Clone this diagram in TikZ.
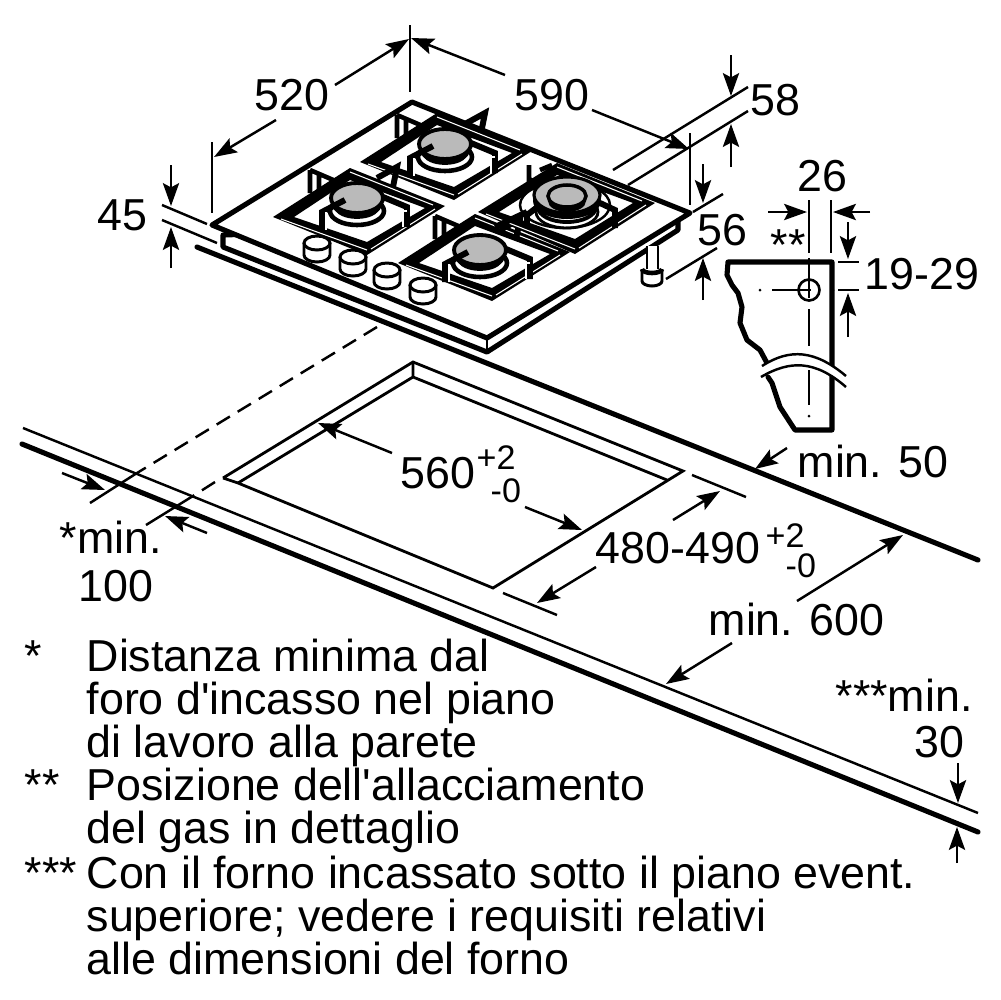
\documentclass[tikz,border=0pt]{standalone}
\usepackage{fontspec}
\newfontfamily\hobfont{Liberation Sans}
\usetikzlibrary{arrows.meta}
\tikzset{
  thin line/.style={line width=0.7pt},
  heavy line/.style={line width=1.45pt,line join=round,line cap=round},
  dim/.style={line width=0.7pt,-{Stealth[length=6.5pt,width=4.6pt,inset=1.2pt]}},
  label/.style={anchor=base west,inner sep=0pt,font=\hobfont\fontsize{12.74}{15}\selectfont},
  tol/.style={anchor=base west,inner sep=0pt,font=\hobfont\fontsize{9.7}{12}\selectfont},
  knobline/.style={line width=0.85pt,fill=white},
}
% cap x, cap y, frame x, frame y
\newcommand{\hobburner}[4]{
  \begin{scope}[shift={(#3,#4)}]
    \fill[black,even odd rule] (-2,0)--(75,-49)--(170,-11)--(92,38)--cycle (19,0)--(75,-37)--(150,-9)--(92,25)--cycle;
    \draw[white,line width=0.3pt] (6,2)--(92,33) (96,32)--(160,-8) (75,-45)--(158,-12);
    \draw[line width=1.3pt] (35,-47)--(63,-35) (35,-47)--(35,-24) (44,-42)--(44,-25);
  \end{scope}
  \begin{scope}[shift={(#1,#2)}]
    \draw[line width=1.3pt,fill=white] (0,13) ellipse (27 and 14);
    \draw[line width=0.5pt] (0,10) ellipse (21 and 10);
    \fill[black] (0,6) ellipse (25 and 14);
    \draw[line width=1.1pt,fill=black!27] (0,0) ellipse (26 and 15);
    \draw[line width=1.7pt] (-12,2)--(-35,14)--(-35,32) (26,-1)--(50,9)--(50,29) (20,-20)--(40,-31)--(36,-11);
    \draw[white,line width=0.35pt] (-31,14)--(-31,32) (50,13)--(46,13)--(46,29);
  \end{scope}
}
\newcommand{\hobknob}[2]{
  \draw[knobline] (#1-13,#2)--(#1-13,#2+12) arc[start angle=180,end angle=0,x radius=13,y radius=7]--(#1+13,#2);
  \draw[knobline] (#1,#2) ellipse (13 and 7);
}
\begin{document}
\begin{tikzpicture}[x=0.1mm,y=-0.1mm]
\useasboundingbox (0,0) rectangle (1000,1000);
% worktop
\draw[heavy line] (197,247)--(978,560);
\draw[thin line] (23,428)--(978,813);
\draw[heavy line] (22,444)--(978,832);
% cut-out
\draw[line width=0.8pt,line join=miter] (223,478)--(413,362)--(683,471)--(493,588)--(238,483)--(223,478);
\draw[line width=0.8pt] (238,483)--(413,377)--(667,480) (413,362)--(413,377);
% distance lines to wall
\draw[thin line,dash pattern=on 4.4pt off 2.6pt] (377,327)--(137,473);
\draw[thin line] (137,473)--(90,503);
\draw[thin line,dash pattern=on 4.4pt off 2.6pt] (215,482)--(193,496);
\draw[thin line] (193,496)--(146,525);
% hob
\draw[heavy line,fill=white] (223,235)--(223,247)--(487,352)--(678,230)--(678,220)--cycle;
\draw[line width=0.7pt] (487,340)--(487,352);
\draw[heavy line,fill=white] (212,225)--(412,102)--(690,213)--(487,338)--cycle;
\hobburner{445}{144}{362}{162}
\hobburner{357}{198}{275}{217}
\hobburner{480}{250}{400}{263}
% large burner
\begin{scope}[shift={(480,212)}]
  \fill[black,even odd rule] (-2,0)--(77,-49)--(175,-9)--(95,42)--cycle (19,0)--(77,-37)--(153,-9)--(95,27)--cycle;
  \draw[white,line width=0.3pt] (6,2)--(95,37) (99,36)--(166,-7) (77,-45)--(162,-11);
  \draw[line width=1.3pt] (49,-33)--(55,-30) (49,-47)--(49,-24) (60,-42)--(72,-47);
\end{scope}
\draw[line width=0.7pt,fill=white] (565,205) ellipse (45 and 23);
\draw[line width=0.8pt] (567,212) ellipse (31 and 16);
\draw[line width=1.1pt,fill=white] (567,207) ellipse (29 and 15);
\fill[black] (567,201) ellipse (34 and 18);
\draw[line width=0.9pt,fill=black!27] (567,195) ellipse (33 and 18);
\fill[black] (567,201) ellipse (19 and 11);
\draw[line width=1pt,fill=black!27] (567,196) ellipse (19 and 11);
\draw[line width=1.7pt] (540,205)--(527,215)--(527,228) (600,203)--(615,210)--(615,228) (495,227)--(527,212);
% knobs
\hobknob{317}{243}
\hobknob{353}{257}
\hobknob{387}{270}
\hobknob{423}{285}
% foot
\draw[line width=0.85pt,fill=white] (647,246)--(647,270)--(658,270)--(658,246);
\draw[line width=0.85pt,fill=white] (642,269)--(642,281) arc[start angle=180,end angle=0,x radius=10,y radius=5]--(662,269);
\draw[line width=1.3pt] (642,269) arc[start angle=180,end angle=0,x radius=10,y radius=4];
% dimension 520 / 590
\draw[thin line] (212,142)--(212,213);
\draw[thin line] (410,25)--(410,92);
\draw[thin line] (690,133)--(690,205);
\draw[dim] (276,120)--(214,157);
\draw[dim] (335,85)--(409,39);
\draw[dim] (505,75)--(411,38);
\draw[dim] (592,110)--(689,149);
% dimension 58
\draw[thin line] (613,170)--(748,87);
\draw[thin line] (628,185)--(748,111);
\draw[dim] (731,55)--(731,96);
\draw[dim] (731,167)--(731,124);
% dimension 56
\draw[thin line] (693,212)--(723,194);
\draw[thin line] (666,279)--(717,248);
\draw[dim] (703,164)--(703,203);
\draw[dim] (703,300)--(703,258);
% dimension 45
\draw[thin line] (162,205)--(207,224);
\draw[thin line] (162,220)--(217,243);
\draw[dim] (171,165)--(171,206);
\draw[dim] (171,268)--(171,227);
% detail of gas connection
\draw[heavy line] (767,363)--(760,350)--(747,340)--(740,323)--(742,307)--(738,293)--(732,285)--(727,275)--(728,262)--(832,262)--(832,430)--(795,430)--(780,407)--(772,383)--(768,377);
\fill[white] (762,366)..controls (790,348) and (815,350) ..(846,376)--(846,387)..controls (815,360) and (790,360) ..(761,377)--cycle;
\draw[thin line] (762,366)..controls (790,348) and (815,350) ..(846,376);
\draw[thin line] (761,377)..controls (790,360) and (815,360) ..(846,387);
\draw[line width=0.75pt] (809,290) circle (10.5);
\draw[thin line] (809,200)--(809,253) (809,258)--(809,298) (809,309)--(809,346) (809,370)--(809,405);
\draw[thin line] (772,290)--(811,290);
\fill[black] (809,416) circle (1.5) (760,290) circle (1.5) (833,290) circle (1.5);
\draw[thin line] (831,200)--(831,253);
\draw[thin line] (838,262)--(859,262) (838,290)--(859,290);
\draw[dim] (768,212)--(807,212);
\draw[dim] (870,212)--(833,212);
\draw[dim] (848,222)--(848,259);
\draw[dim] (848,337)--(848,293);
% dimensions on worktop
\draw[dim] (62,473)--(105,490);
\draw[dim] (207,533)--(165,516);
\draw[dim] (392,453)--(318,423);
\draw[dim] (525,507)--(582,530);
\draw[thin line] (692,475)--(746,497) (503,593)--(557,615);
\draw[dim] (673,520)--(720,491);
\draw[dim] (596,567)--(537,603);
\draw[dim] (787,448)--(755,469);
\draw[dim] (797,601)--(903,535);
\draw[dim] (732,643)--(666,684);
\draw[dim] (958,763)--(958,803);
\draw[dim] (957,863)--(957,827);
% labels
\node[label] (w520) at (254,110) {520};
\node[label] (w590) at (514,110) {590};
\node[label] (h58) at (750,115) {58};
\node[label] (h45) at (97,230) {45};
\node[label] (h56) at (697,245) {56};
\node[label] (g26) at (797,191) {26};
\node[label] (gstar) at (770,260) {**};
\node[label] (g1929) at (864,289) {19-29};
\node[label] (c560) at (400,488) {560};
\node[tol] (c560p) at (476,469) {+2};
\node[tol] (c560m) at (490,502) {-0};
\node[label] (c480) at (595,563) {480-490};
\node[tol] (c480p) at (765,547) {+2};
\node[tol] (c480m) at (785,577) {-0};
\node[label] (m50) at (797,477) {min. 50};
\node[label] (m600) at (708,635) {min. 600};
\node[label] (m30a) at (835,711) {***min.};
\node[label] (m30b) at (914,757) {30};
\node[label] (m100a) at (59,553) {*min.};
\node[label] (m100b) at (78,601) {100};
% notes
\node[label] (s1) at (24,671) {*};
\node[label] (n1) at (86,671) {Distanza minima dal};
\node[label] (n2) at (86,714) {foro d'incasso nel piano};
\node[label] (n3) at (86,757) {di lavoro alla parete};
\node[label] (s2) at (24,800) {**};
\node[label] (n4) at (86,800) {Posizione dell'allacciamento};
\node[label] (n5) at (86,843) {del gas in dettaglio};
\node[label] (s3) at (24,888) {***};
\node[label] (n6) at (86,888) {Con il forno incassato sotto il piano event.};
\node[label] (n7) at (86,931) {superiore; vedere i requisiti relativi};
\node[label] (n8) at (86,974) {alle dimensioni del forno};
\end{tikzpicture}
\end{document}
